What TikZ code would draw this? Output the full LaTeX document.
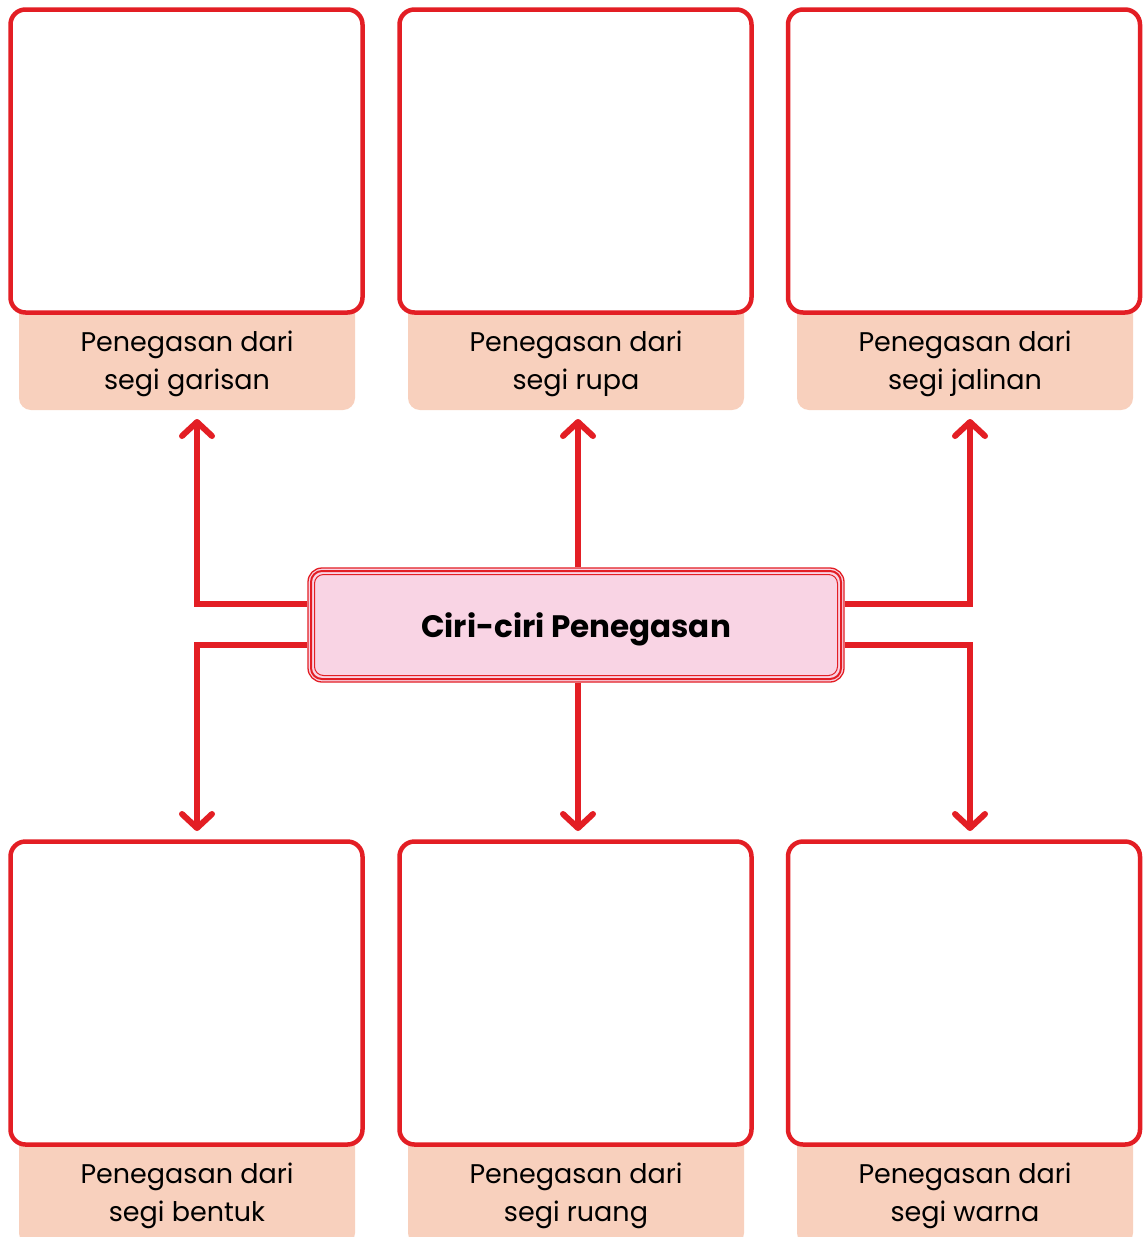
\documentclass[tikz,border=0pt]{standalone}
\usepackage{fontspec}
\setmainfont{Poppins}
\usetikzlibrary{arrows.meta}
\definecolor{rd}{HTML}{E31E24}
\definecolor{lblfill}{HTML}{F8D0BD}
\definecolor{pinkfill}{HTML}{F9D4E4}
\tikzset{
  box/.style={draw=rd, line width=4.5pt, fill=white, rounded corners=15pt, minimum width=352pt, minimum height=303pt, inner sep=0pt},
  lblbg/.style={fill=lblfill, rounded corners=12pt},
  lbl/.style={align=center, font=\fontsize{27}{38}\selectfont, inner sep=0pt},
  conn/.style={draw=rd, line width=6pt, -{Straight Barb[length=14pt,width=30pt,round]}},
}
\begin{document}
\begin{tikzpicture}[x=1pt,y=-1pt]
\useasboundingbox[fill=white] (0,0) rectangle (1144,1237);
% label backgrounds
\fill[lblbg] (19,300) rectangle (355,410);
\fill[lblbg] (408,300) rectangle (744,410);
\fill[lblbg] (797,300) rectangle (1133,410);
\fill[lblbg] (19,1130) rectangle (355,1245);
\fill[lblbg] (408,1130) rectangle (744,1245);
\fill[lblbg] (797,1130) rectangle (1133,1245);
% boxes
\node[box] (b1) at (186.5,161) {};
\node[box] (b2) at (575.5,161) {};
\node[box] (b3) at (964,161) {};
\node[box] (b4) at (186.5,993) {};
\node[box] (b5) at (575.5,993) {};
\node[box] (b6) at (964,993) {};
% labels
\node[lbl] (l1) at (187,364) {Penegasan dari\\segi garisan};
\node[lbl] (l2) at (576,364) {Penegasan dari\\segi rupa};
\node[lbl] (l3) at (965,364) {Penegasan dari\\segi jalinan};
\node[lbl] (l4) at (187,1196) {Penegasan dari\\segi bentuk};
\node[lbl] (l5) at (576,1196) {Penegasan dari\\segi ruang};
\node[lbl] (l6) at (965,1196) {Penegasan dari\\segi warna};
% arrow tip coordinates
\coordinate (t1) at (197,419);
\coordinate (t2) at (578,419);
\coordinate (t3) at (970,419);
\coordinate (t4) at (197,831);
\coordinate (t5) at (578,831);
\coordinate (t6) at (970,831);
% central node
\node[draw=rd, line width=1.3pt, fill=pinkfill, rounded corners=14pt, minimum width=536pt, minimum height=114pt, inner sep=0pt,
      text depth=0pt, font=\fontsize{31}{40}\selectfont\bfseries] (ciri) at (576,625) {Ciri-ciri Penegasan};
\draw[rd, line width=2pt, rounded corners=11pt] (311,571) rectangle (841,679);
\draw[rd, line width=1pt, rounded corners=9pt] (314.5,574.5) rectangle (837.5,675.5);
% connectors
\draw[conn] ([yshift=21pt]ciri.west) -| (t1);
\draw[conn] ([yshift=-20pt]ciri.west) -| (t4);
\draw[conn] ([xshift=2pt]ciri.north) -- (t2);
\draw[conn] ([xshift=2pt]ciri.south) -- (t5);
\draw[conn] ([yshift=21pt]ciri.east) -| (t3);
\draw[conn] ([yshift=-20pt]ciri.east) -| (t6);
\end{tikzpicture}
\end{document}
